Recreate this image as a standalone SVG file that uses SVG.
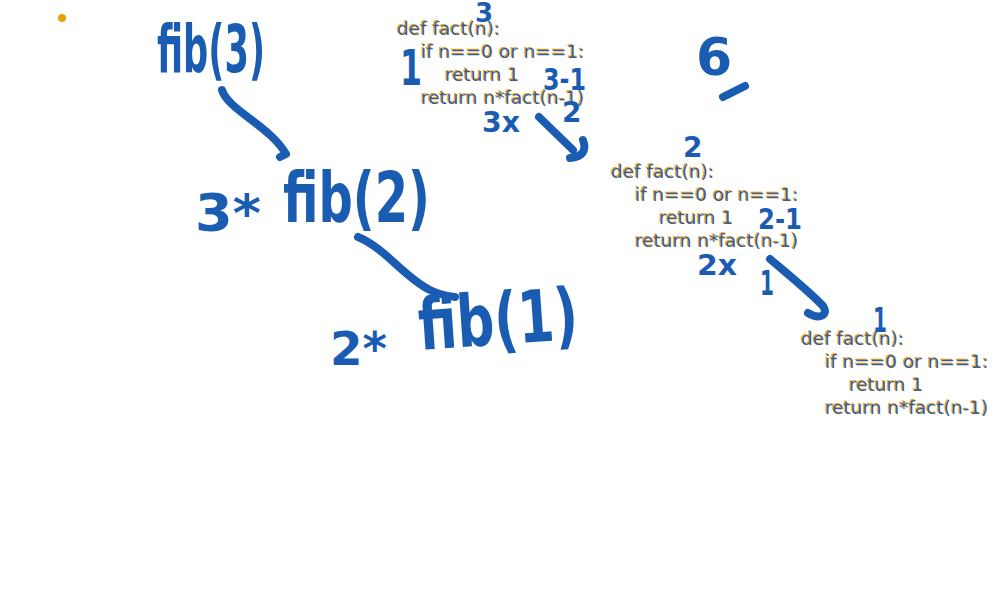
<svg xmlns="http://www.w3.org/2000/svg" xmlns:xlink="http://www.w3.org/1999/xlink" width="1000" height="600" viewBox="0 0 1000 600">
<style>
.code{font-family:"DejaVu Sans",Verdana,sans-serif;font-size:18.5px}
.ink{font-family:"DejaVu Sans","Liberation Sans",sans-serif;font-weight:bold;fill:#1b5cb3}
.stroke{fill:none;stroke:#1b5cb3;stroke-width:8;stroke-linecap:round;stroke-linejoin:round}
</style>
<defs>
<g id="codeblock" class="code">
<text x="0" y="0">def fact(n):</text>
<text x="24" y="23">if n==0 or n==1:</text>
<text x="48" y="46">return 1</text>
<text x="24" y="69">return n*fact(n-1)</text>
</g>
</defs>
<rect width="1000" height="600" fill="#ffffff"/>
<circle cx="62" cy="18" r="4" fill="#e8a20c"/>

<g id="code1">
<use xlink:href="#codeblock" x="396" y="34" fill="#e8a317"/>
<use xlink:href="#codeblock" x="397" y="35" fill="#3a5c8e"/>
</g>
<g id="code2">
<use xlink:href="#codeblock" x="610" y="177" fill="#e8a317"/>
<use xlink:href="#codeblock" x="611" y="178" fill="#3a5c8e"/>
</g>
<g id="code3">
<use xlink:href="#codeblock" x="800" y="344" fill="#e8a317"/>
<use xlink:href="#codeblock" x="801" y="345" fill="#3a5c8e"/>
</g>

<g id="fib3"><text class="ink" x="157" y="72" font-size="66" textLength="108" lengthAdjust="spacingAndGlyphs">fib(3)</text></g>
<g id="fib2">
<text class="ink" x="195" y="231" font-size="52" textLength="66" lengthAdjust="spacingAndGlyphs">3*</text>
<text class="ink" x="283" y="222" font-size="70" textLength="147" lengthAdjust="spacingAndGlyphs">fib(2)</text>
</g>
<g id="fib1">
<text class="ink" x="330" y="365" font-size="46" textLength="57" lengthAdjust="spacingAndGlyphs">2*</text>
<text class="ink" x="420" y="350" font-size="72" textLength="160" lengthAdjust="spacingAndGlyphs" transform="rotate(-4 420 350)">fib(1)</text>
</g>

<g id="notes">
<text class="ink" x="475" y="22" font-size="26">3</text>
<text class="ink" x="400" y="85" font-size="50" textLength="22" lengthAdjust="spacingAndGlyphs">1</text>
<text class="ink" x="543" y="90" font-size="30" textLength="43" lengthAdjust="spacingAndGlyphs">3-1</text>
<text class="ink" x="482" y="132" font-size="28" textLength="38" lengthAdjust="spacingAndGlyphs">3x</text>
<text class="ink" x="562" y="122" font-size="28">2</text>
<text class="ink" x="696" y="75" font-size="52">6</text>
<text class="ink" x="683" y="157" font-size="28">2</text>
<text class="ink" x="758" y="229" font-size="28" textLength="44" lengthAdjust="spacingAndGlyphs">2-1</text>
<text class="ink" x="697" y="275" font-size="28" textLength="40" lengthAdjust="spacingAndGlyphs">2x</text>
<text class="ink" x="760" y="295" font-size="34" textLength="14" lengthAdjust="spacingAndGlyphs">1</text>
<text class="ink" x="873" y="332" font-size="34" textLength="14" lengthAdjust="spacingAndGlyphs">1</text>
</g>

<g id="connectors" class="stroke">
<path d="M222,90 C228,110 270,126 286,154 L280,157"/>
<path d="M358,237 C385,248 405,278 430,290 C440,295 448,296 455,297"/>
<path d="M539,117 L573,150 M583,140 C587,151 582,157 570,158"/>
<path d="M770,259 C790,276 812,294 823,306 C829,315 820,320 808,313"/>
<path d="M723,97 L745,86"/>
</g>
</svg>
